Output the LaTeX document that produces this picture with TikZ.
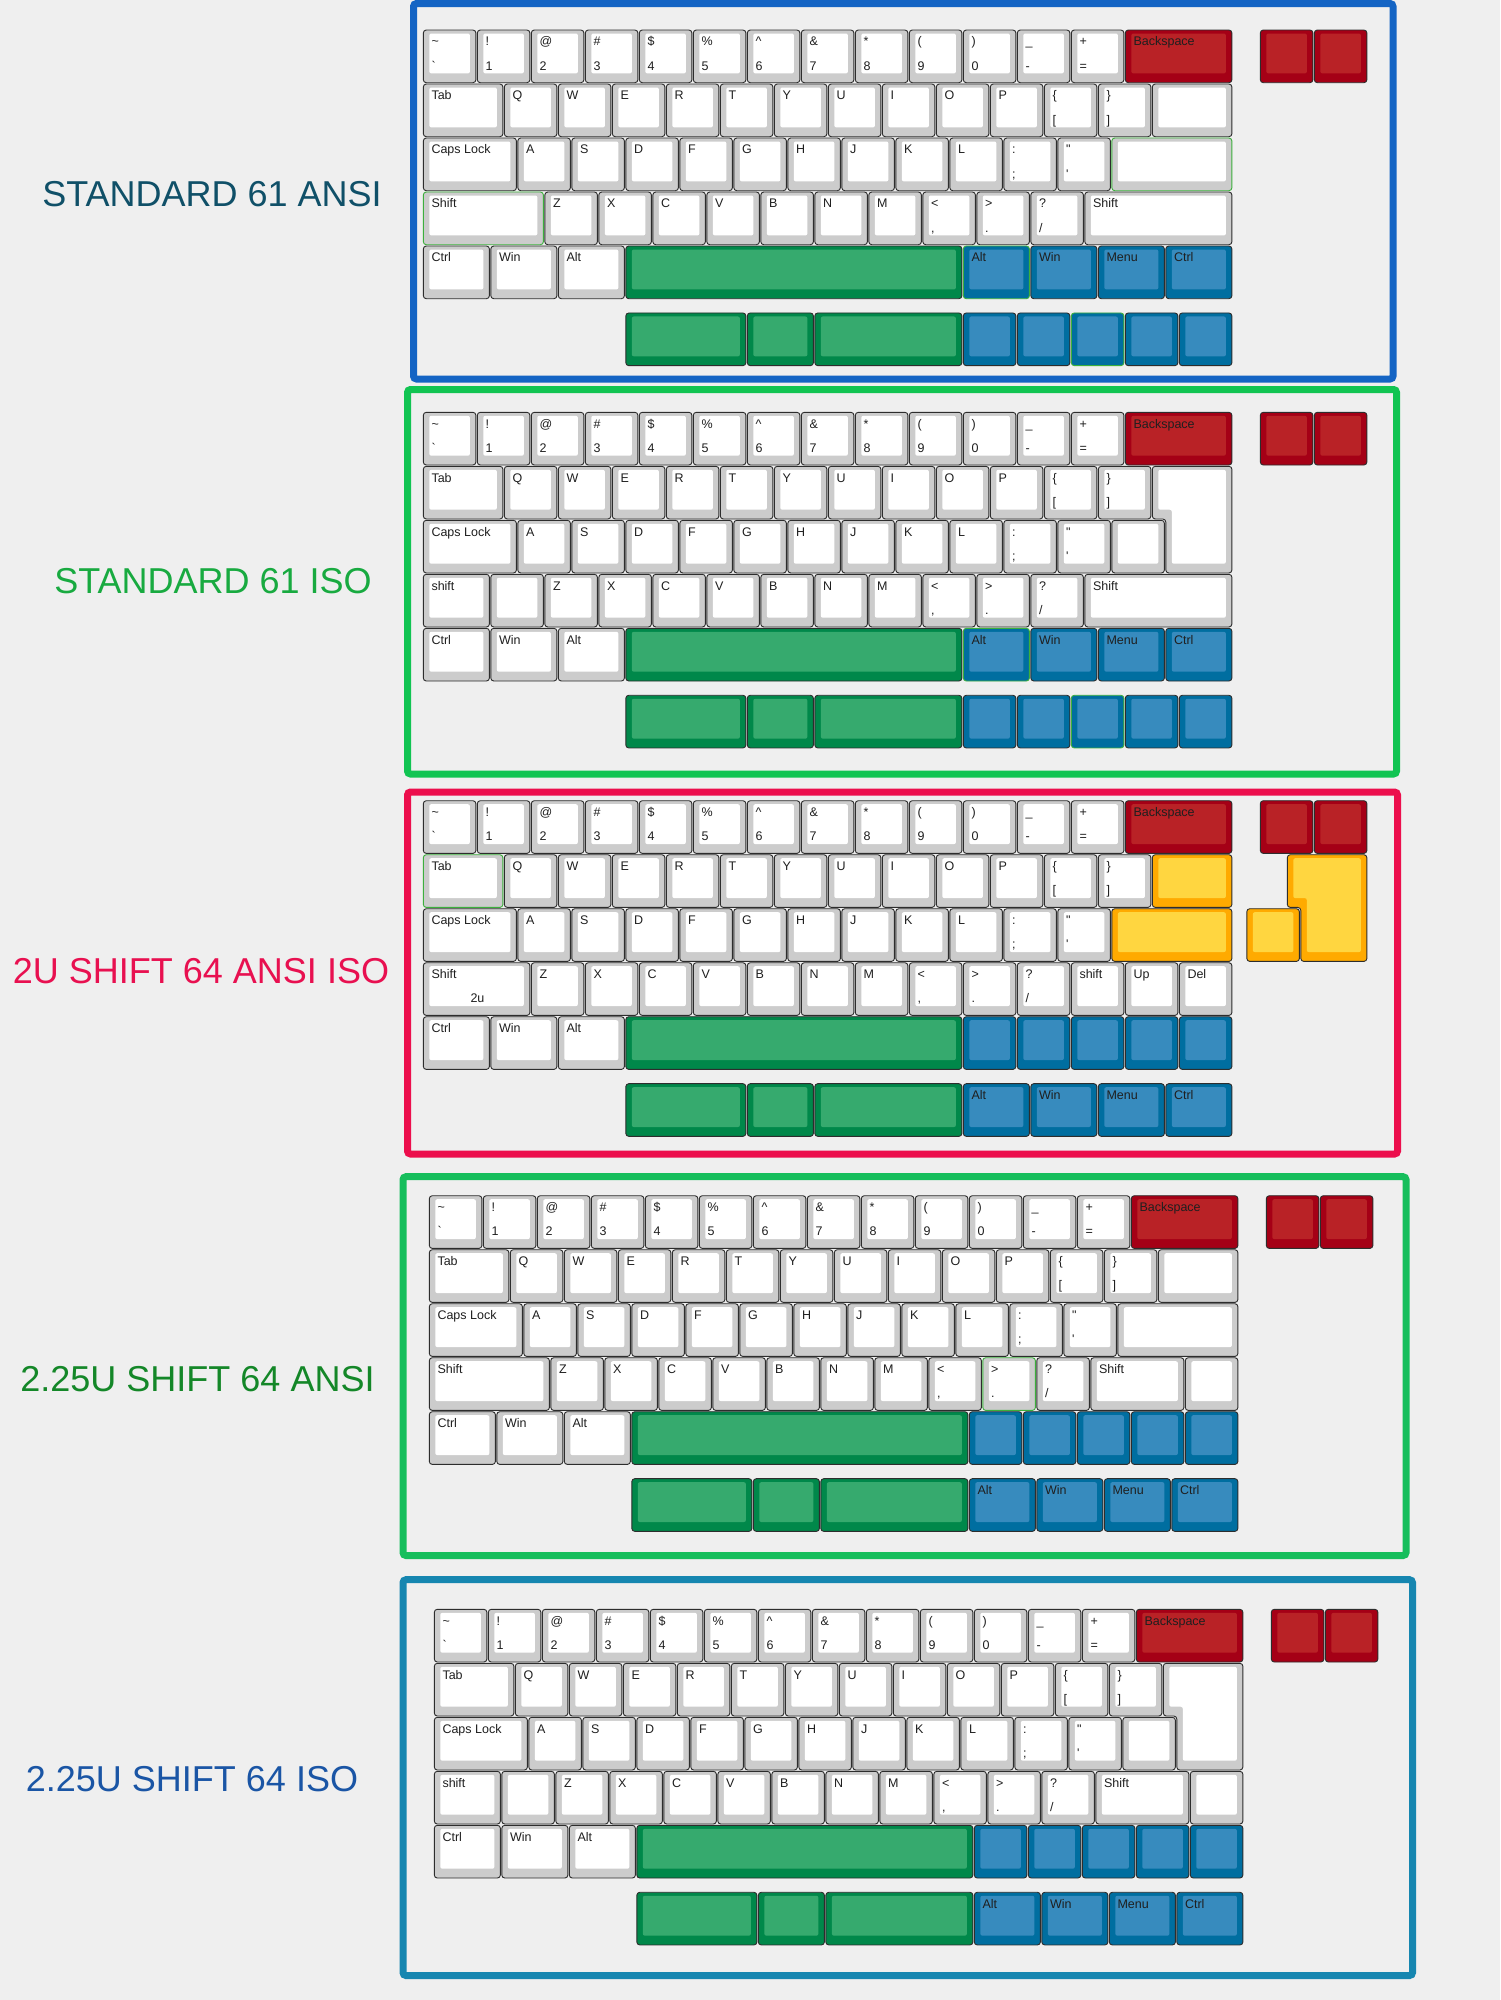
\documentclass[tikz,border=0pt]{standalone}
\usepackage{fontspec}
\setmainfont{Liberation Sans}
\newfontfamily\kf{Liberation Sans}
\definecolor{bg}{RGB}{239,239,239}
\definecolor{keyline}{RGB}{45,45,45}
\definecolor{hl}{RGB}{60,175,60}
\definecolor{Wo}{RGB}{204,204,204}
\definecolor{Wi}{RGB}{255,255,255}
\definecolor{Ro}{RGB}{165,0,22}
\definecolor{Ri}{RGB}{185,34,38}
\definecolor{Go}{RGB}{0,136,74}
\definecolor{Gi}{RGB}{54,170,110}
\definecolor{Bo}{RGB}{0,110,160}
\definecolor{Bi}{RGB}{55,139,190}
\definecolor{Yo}{RGB}{255,170,0}
\definecolor{Yi}{RGB}{255,214,64}
\definecolor{F1}{RGB}{20,100,196}
\definecolor{F2}{RGB}{17,196,82}
\definecolor{F3}{RGB}{236,14,76}
\definecolor{F4}{RGB}{22,190,92}
\definecolor{F5}{RGB}{22,134,176}
\definecolor{L1}{RGB}{16,80,104}
\definecolor{L2}{RGB}{24,170,64}
\definecolor{L3}{RGB}{232,16,80}
\definecolor{L4}{RGB}{20,135,40}
\definecolor{L5}{RGB}{26,85,165}
\tikzset{
  lab/.style={anchor=base west,inner sep=0pt,font=\kf\fontsize{12.5}{14}\selectfont,text=black!88},
  title/.style={anchor=base,inner sep=0pt,font=\kf\fontsize{36}{40}\selectfont},
  frame/.style={line width=7pt,rounded corners=3pt}
}
\newcommand\kcap[7][keyline]{%
  \pgfmathsetmacro\xa{(#2)*54}%
  \pgfmathsetmacro\xb{((#2)+(#4))*54-1.4}%
  \pgfmathsetmacro\ya{-(#3)*54}%
  \pgfmathsetmacro\yb{-(#3)*54-52.7}%
  \filldraw[fill=#5o,draw=#1,line width=0.9pt,rounded corners=3pt] (\xa,\ya) rectangle (\xb,\yb);%
  \fill[#5i,rounded corners=2pt] (\xa+6,\ya-3.5) rectangle (\xb-6,\yb+9.3);%
  \if\relax\detokenize{#6}\relax\else\node[lab] at (\xa+8,\ya-15.8) {#6};\fi
  \if\relax\detokenize{#7}\relax\else\node[lab] at (\xa+8,\ya-40) {#7};\fi
}
\newcommand\isoent[3]{%
  \pgfmathsetmacro\xa{(#1)*54}%
  \pgfmathsetmacro\xr{((#1)+1.5)*54-1.4}%
  \pgfmathsetmacro\xc{((#1)+0.25)*54}%
  \pgfmathsetmacro\ya{-(#2)*54}%
  \pgfmathsetmacro\ym{-(#2)*54-52.7}%
  \pgfmathsetmacro\yb{-((#2)+1)*54-52.7}%
  \filldraw[fill=#3o,draw=keyline,line width=0.9pt,rounded corners=3pt] (\xa,\ya) -- (\xr,\ya) -- (\xr,\yb) -- (\xc,\yb) -- (\xc,\ym) -- (\xa,\ym) -- cycle;%
  \fill[#3i,rounded corners=2pt] (\xa+6,\ya-3.5) -- (\xr-6,\ya-3.5) -- (\xr-6,\yb+9.3) -- (\xc+6,\yb+9.3) -- (\xc+6,\ym+9.3) -- (\xa+6,\ym+9.3) -- cycle;%
}
\newcommand\rowzero{%
  \kcap{0}{0}{1}{W}{\string~}{`}
  \kcap{1}{0}{1}{W}{!}{1}
  \kcap{2}{0}{1}{W}{@}{2}
  \kcap{3}{0}{1}{W}{\#}{3}
  \kcap{4}{0}{1}{W}{\$}{4}
  \kcap{5}{0}{1}{W}{\%}{5}
  \kcap{6}{0}{1}{W}{\string^}{6}
  \kcap{7}{0}{1}{W}{\&}{7}
  \kcap{8}{0}{1}{W}{*}{8}
  \kcap{9}{0}{1}{W}{(}{9}
  \kcap{10}{0}{1}{W}{)}{0}
  \kcap{11}{0}{1}{W}{\_}{-}
  \kcap{12}{0}{1}{W}{+}{=}
  \kcap{13}{0}{2}{R}{Backspace}{}
  \kcap{15.5}{0}{1}{R}{}{}
  \kcap{16.5}{0}{1}{R}{}{}
}
\newcommand\rowq[1]{%
  \kcap[#1]{0}{1}{1.5}{W}{Tab}{}
  \kcap{1.5}{1}{1}{W}{Q}{}
  \kcap{2.5}{1}{1}{W}{W}{}
  \kcap{3.5}{1}{1}{W}{E}{}
  \kcap{4.5}{1}{1}{W}{R}{}
  \kcap{5.5}{1}{1}{W}{T}{}
  \kcap{6.5}{1}{1}{W}{Y}{}
  \kcap{7.5}{1}{1}{W}{U}{}
  \kcap{8.5}{1}{1}{W}{I}{}
  \kcap{9.5}{1}{1}{W}{O}{}
  \kcap{10.5}{1}{1}{W}{P}{}
  \kcap{11.5}{1}{1}{W}{\{}{[}
  \kcap{12.5}{1}{1}{W}{\}}{]}
}
\newcommand\rowa{%
  \kcap{0}{2}{1.75}{W}{Caps Lock}{}
  \kcap{1.75}{2}{1}{W}{A}{}
  \kcap{2.75}{2}{1}{W}{S}{}
  \kcap{3.75}{2}{1}{W}{D}{}
  \kcap{4.75}{2}{1}{W}{F}{}
  \kcap{5.75}{2}{1}{W}{G}{}
  \kcap{6.75}{2}{1}{W}{H}{}
  \kcap{7.75}{2}{1}{W}{J}{}
  \kcap{8.75}{2}{1}{W}{K}{}
  \kcap{9.75}{2}{1}{W}{L}{}
  \kcap{10.75}{2}{1}{W}{:}{;}
  \kcap{11.75}{2}{1}{W}{"}{'}
}
\newcommand\rowzm[2]{%
  \kcap{#1}{3}{1}{W}{Z}{}
  \kcap{#1+1}{3}{1}{W}{X}{}
  \kcap{#1+2}{3}{1}{W}{C}{}
  \kcap{#1+3}{3}{1}{W}{V}{}
  \kcap{#1+4}{3}{1}{W}{B}{}
  \kcap{#1+5}{3}{1}{W}{N}{}
  \kcap{#1+6}{3}{1}{W}{M}{}
  \kcap{#1+7}{3}{1}{W}{<}{,}
  \kcap[#2]{#1+8}{3}{1}{W}{>}{.}
  \kcap{#1+9}{3}{1}{W}{?}{/}
}
\newcommand\rowmod{%
  \kcap{0}{4}{1.25}{W}{Ctrl}{}
  \kcap{1.25}{4}{1.25}{W}{Win}{}
  \kcap{2.5}{4}{1.25}{W}{Alt}{}
  \kcap{3.75}{4}{6.25}{G}{}{}
}
\newcommand\extragreen{%
  \kcap{3.75}{5.24}{2.25}{G}{}{}
  \kcap{6}{5.24}{1.25}{G}{}{}
  \kcap{7.25}{5.24}{2.75}{G}{}{}
}
\newcommand\bluelab[2]{%
  \kcap[#2]{10}{#1}{1.25}{B}{Alt}{}
  \kcap{11.25}{#1}{1.25}{B}{Win}{}
  \kcap{12.5}{#1}{1.25}{B}{Menu}{}
  \kcap{13.75}{#1}{1.25}{B}{Ctrl}{}
}
\newcommand\bluefive[2]{%
  \kcap{10}{#1}{1}{B}{}{}
  \kcap{11}{#1}{1}{B}{}{}
  \kcap[#2]{12}{#1}{1}{B}{}{}
  \kcap{13}{#1}{1}{B}{}{}
  \kcap{14}{#1}{1}{B}{}{}
}
\begin{document}
\begin{tikzpicture}[x=1pt,y=1pt]
\fill[bg] (0,0) rectangle (1500,-2000);
\useasboundingbox (0,0) rectangle (1500,-2000);
% frames
\draw[frame,F1] (413.5,-3.5) rectangle (1393,-379);
\draw[frame,F2] (407.5,-389.5) rectangle (1396.5,-774);
\draw[frame,F3] (407.5,-792) rectangle (1397.5,-1154);
\draw[frame,F4] (403,-1176.7) rectangle (1406,-1555.5);
\draw[frame,F5] (403,-1579.7) rectangle (1412.5,-1975.5);
% titles
\node[title,text=L1] (t1) at (212,-206.7) {STANDARD 61 ANSI};
\node[title,text=L2] (t2) at (213,-593.3) {STANDARD 61 ISO};
\node[title,text=L3] (t3) at (201,-983) {2U SHIFT 64 ANSI ISO};
\node[title,text=L4] (t4) at (197.5,-1391) {2.25U SHIFT 64 ANSI};
\node[title,text=L5] (t5) at (192,-1791) {2.25U SHIFT 64 ISO};
% panel 1: standard 61 ANSI
\begin{scope}[shift={(423.3,-30)}]
  \rowzero
  \rowq{keyline}
  \kcap{13.5}{1}{1.5}{W}{}{}
  \rowa
  \kcap[hl]{12.75}{2}{2.25}{W}{}{}
  \kcap[hl]{0}{3}{2.25}{W}{Shift}{}
  \rowzm{2.25}{keyline}
  \kcap{12.25}{3}{2.75}{W}{Shift}{}
  \rowmod
  \bluelab{4}{hl}
  \extragreen
  \bluefive{5.24}{hl}
\end{scope}
% panel 2: standard 61 ISO
\begin{scope}[shift={(423.3,-412.3)}]
  \rowzero
  \rowq{keyline}
  \rowa
  \kcap{12.75}{2}{1}{W}{}{}
  \isoent{13.5}{1}{W}
  \kcap{0}{3}{1.25}{W}{shift}{}
  \kcap{1.25}{3}{1}{W}{}{}
  \rowzm{2.25}{keyline}
  \kcap{12.25}{3}{2.75}{W}{Shift}{}
  \rowmod
  \bluelab{4}{hl}
  \extragreen
  \bluefive{5.24}{hl}
\end{scope}
% panel 3: 2u shift 64 ANSI ISO
\begin{scope}[shift={(423.3,-800.7)}]
  \rowzero
  \rowq{hl}
  \kcap{13.5}{1}{1.5}{Y}{}{}
  \rowa
  \kcap{12.75}{2}{2.25}{Y}{}{}
  \kcap{15.25}{2}{1}{Y}{}{}
  \isoent{16}{1}{Y}
  \kcap{0}{3}{2}{W}{Shift}{}
  \node[lab] (twou) at (47,-202) {2u};
  \rowzm{2}{keyline}
  \kcap{12}{3}{1}{W}{shift}{}
  \kcap{13}{3}{1}{W}{Up}{}
  \kcap{14}{3}{1}{W}{Del}{}
  \rowmod
  \bluefive{4}{keyline}
  \extragreen
  \bluelab{5.24}{keyline}
\end{scope}
% panel 4: 2.25u shift 64 ANSI
\begin{scope}[shift={(429.3,-1195.7)}]
  \rowzero
  \rowq{keyline}
  \kcap{13.5}{1}{1.5}{W}{}{}
  \rowa
  \kcap{12.75}{2}{2.25}{W}{}{}
  \kcap{0}{3}{2.25}{W}{Shift}{}
  \rowzm{2.25}{hl}
  \kcap{12.25}{3}{1.75}{W}{Shift}{}
  \kcap{14}{3}{1}{W}{}{}
  \rowmod
  \bluefive{4}{keyline}
  \extragreen
  \bluelab{5.24}{keyline}
\end{scope}
% panel 5: 2.25u shift 64 ISO
\begin{scope}[shift={(434.3,-1609.3)}]
  \rowzero
  \rowq{keyline}
  \rowa
  \kcap{12.75}{2}{1}{W}{}{}
  \isoent{13.5}{1}{W}
  \kcap{0}{3}{1.25}{W}{shift}{}
  \kcap{1.25}{3}{1}{W}{}{}
  \rowzm{2.25}{keyline}
  \kcap{12.25}{3}{1.75}{W}{Shift}{}
  \kcap{14}{3}{1}{W}{}{}
  \rowmod
  \bluefive{4}{keyline}
  \extragreen
  \bluelab{5.24}{keyline}
\end{scope}
\end{tikzpicture}
\end{document}
